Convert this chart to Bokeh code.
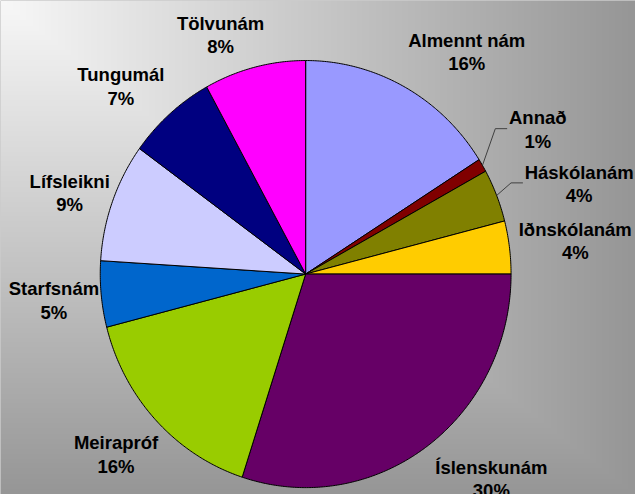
import numpy as np
from bokeh.plotting import figure
from bokeh.models import Range1d
from bokeh.embed import file_html
from bokeh.resources import INLINE
from bokeh.core.properties import value

# ---- data ----
categories = ["Almennt nám", "Annað", "Háskólanám", "Iðnskólanám", "Íslenskunám",
              "Meirapróf", "Starfsnám", "Lífsleikni", "Tungumál", "Tölvunám"]
shares = [16, 1, 4, 4, 30, 16, 5, 9, 7, 8]
colors = ["#9999FF", "#800000", "#808000", "#FFCC00", "#660066",
          "#99CC00", "#0066CC", "#CCCCFF", "#000080", "#FF00FF"]

# ---- layout (reference-pixel geometry) ----
REF_W, REF_H = 643, 502
OFF = 8
W, H = REF_W - OFF, REF_H - OFF
CX, CY = 309, 278          # pie centre
RX, RY = 208, 217          # pie radii
label_r = [1.303, 1.317, 1.397, 1.3215, 1.318, 1.252, 1.232, 1.210, 1.257, 1.194]
label_nudge = [-8.2, 0.3, -4.0, -0.5, 7.3, -0.7, 0.4, 1.5, 4.3, 5.9]
leader_gap = [0, 31, 57, 0, 0, 0, 0, 0, 0, 0]
LINE_GAP = 12
FONT = value("Liberation Sans")
FONT_SIZE = "18.5px"


def to_data(px, py):
    return px, REF_H - py


p = figure(width=W, height=H, output_backend="svg", toolbar_location=None,
           x_range=Range1d(0, REF_W), y_range=Range1d(0, REF_H),
           min_border=0, outline_line_color=None)
p.axis.visible = False
p.grid.visible = False
p.background_fill_color = "#999999"
p.border_fill_color = "#999999"

# background gradient (from top-left corner)
xs = np.arange(REF_W) + 0.5
ys_page = REF_H - (np.arange(REF_H) + 0.5)
XX, YY = np.meshgrid(xs, ys_page)
t = np.maximum(XX / REF_W, YY / REF_H)
g = np.clip(248 - 98 * t, 0, 255).astype(np.uint32)
img = (255 << 24) | (g << 16) | (g << 8) | g
p.image_rgba(image=[img.astype(np.uint32)], x=0, y=0, dw=REF_W, dh=REF_H)

# pie slices
total = float(sum(shares))
cum = np.concatenate([[0], np.cumsum(shares)]) / total
pxs, pys = [], []
for i in range(len(shares)):
    a0 = np.deg2rad(90 - 360 * cum[i])
    a1 = np.deg2rad(90 - 360 * cum[i + 1])
    th = np.linspace(a0, a1, max(8, int(abs(a1 - a0) * 120)))
    ex = CX + RX * np.cos(th)
    ey = CY - RY * np.sin(th)
    x = np.concatenate([[CX], ex, [CX]])
    y = np.concatenate([[CY], ey, [CY]])
    dx, dy = to_data(x, y)
    pxs.append(list(dx))
    pys.append(list(dy))
p.patches(pxs, pys, fill_color=colors, line_color="black", line_width=1)

# labels + leaders
for i, (name, v) in enumerate(zip(categories, shares)):
    mid = 90 - 360 * (cum[i] + cum[i + 1]) / 2
    la = np.deg2rad(mid + label_nudge[i])
    lx = CX + RX * label_r[i] * np.cos(la)
    ly = CY - RY * label_r[i] * np.sin(la)
    dx, dy = to_data(lx, ly)
    p.text([dx], [dy + LINE_GAP], text=[name], text_font=FONT, text_font_style="bold",
           text_font_size=FONT_SIZE, text_align="center", text_baseline="middle",
           text_color="#000000")
    p.text([dx], [dy - LINE_GAP], text=[f"{v}%"], text_font=FONT, text_font_style="bold",
           text_font_size=FONT_SIZE, text_align="center", text_baseline="middle",
           text_color="#000000")
    if leader_gap[i]:
        m = np.deg2rad(mid)
        sx = CX + RX * np.cos(m)
        sy = CY - RY * np.sin(m)
        endx = lx - leader_gap[i]
        ex_ = endx - 12
        hy = ly - 1
        lxs, lys = to_data(np.array([sx, ex_, endx]), np.array([sy, hy, hy]))
        p.line(list(lxs), list(lys), line_color="#404040", line_width=1)

open("out.html", "w").write(file_html(p, INLINE))
